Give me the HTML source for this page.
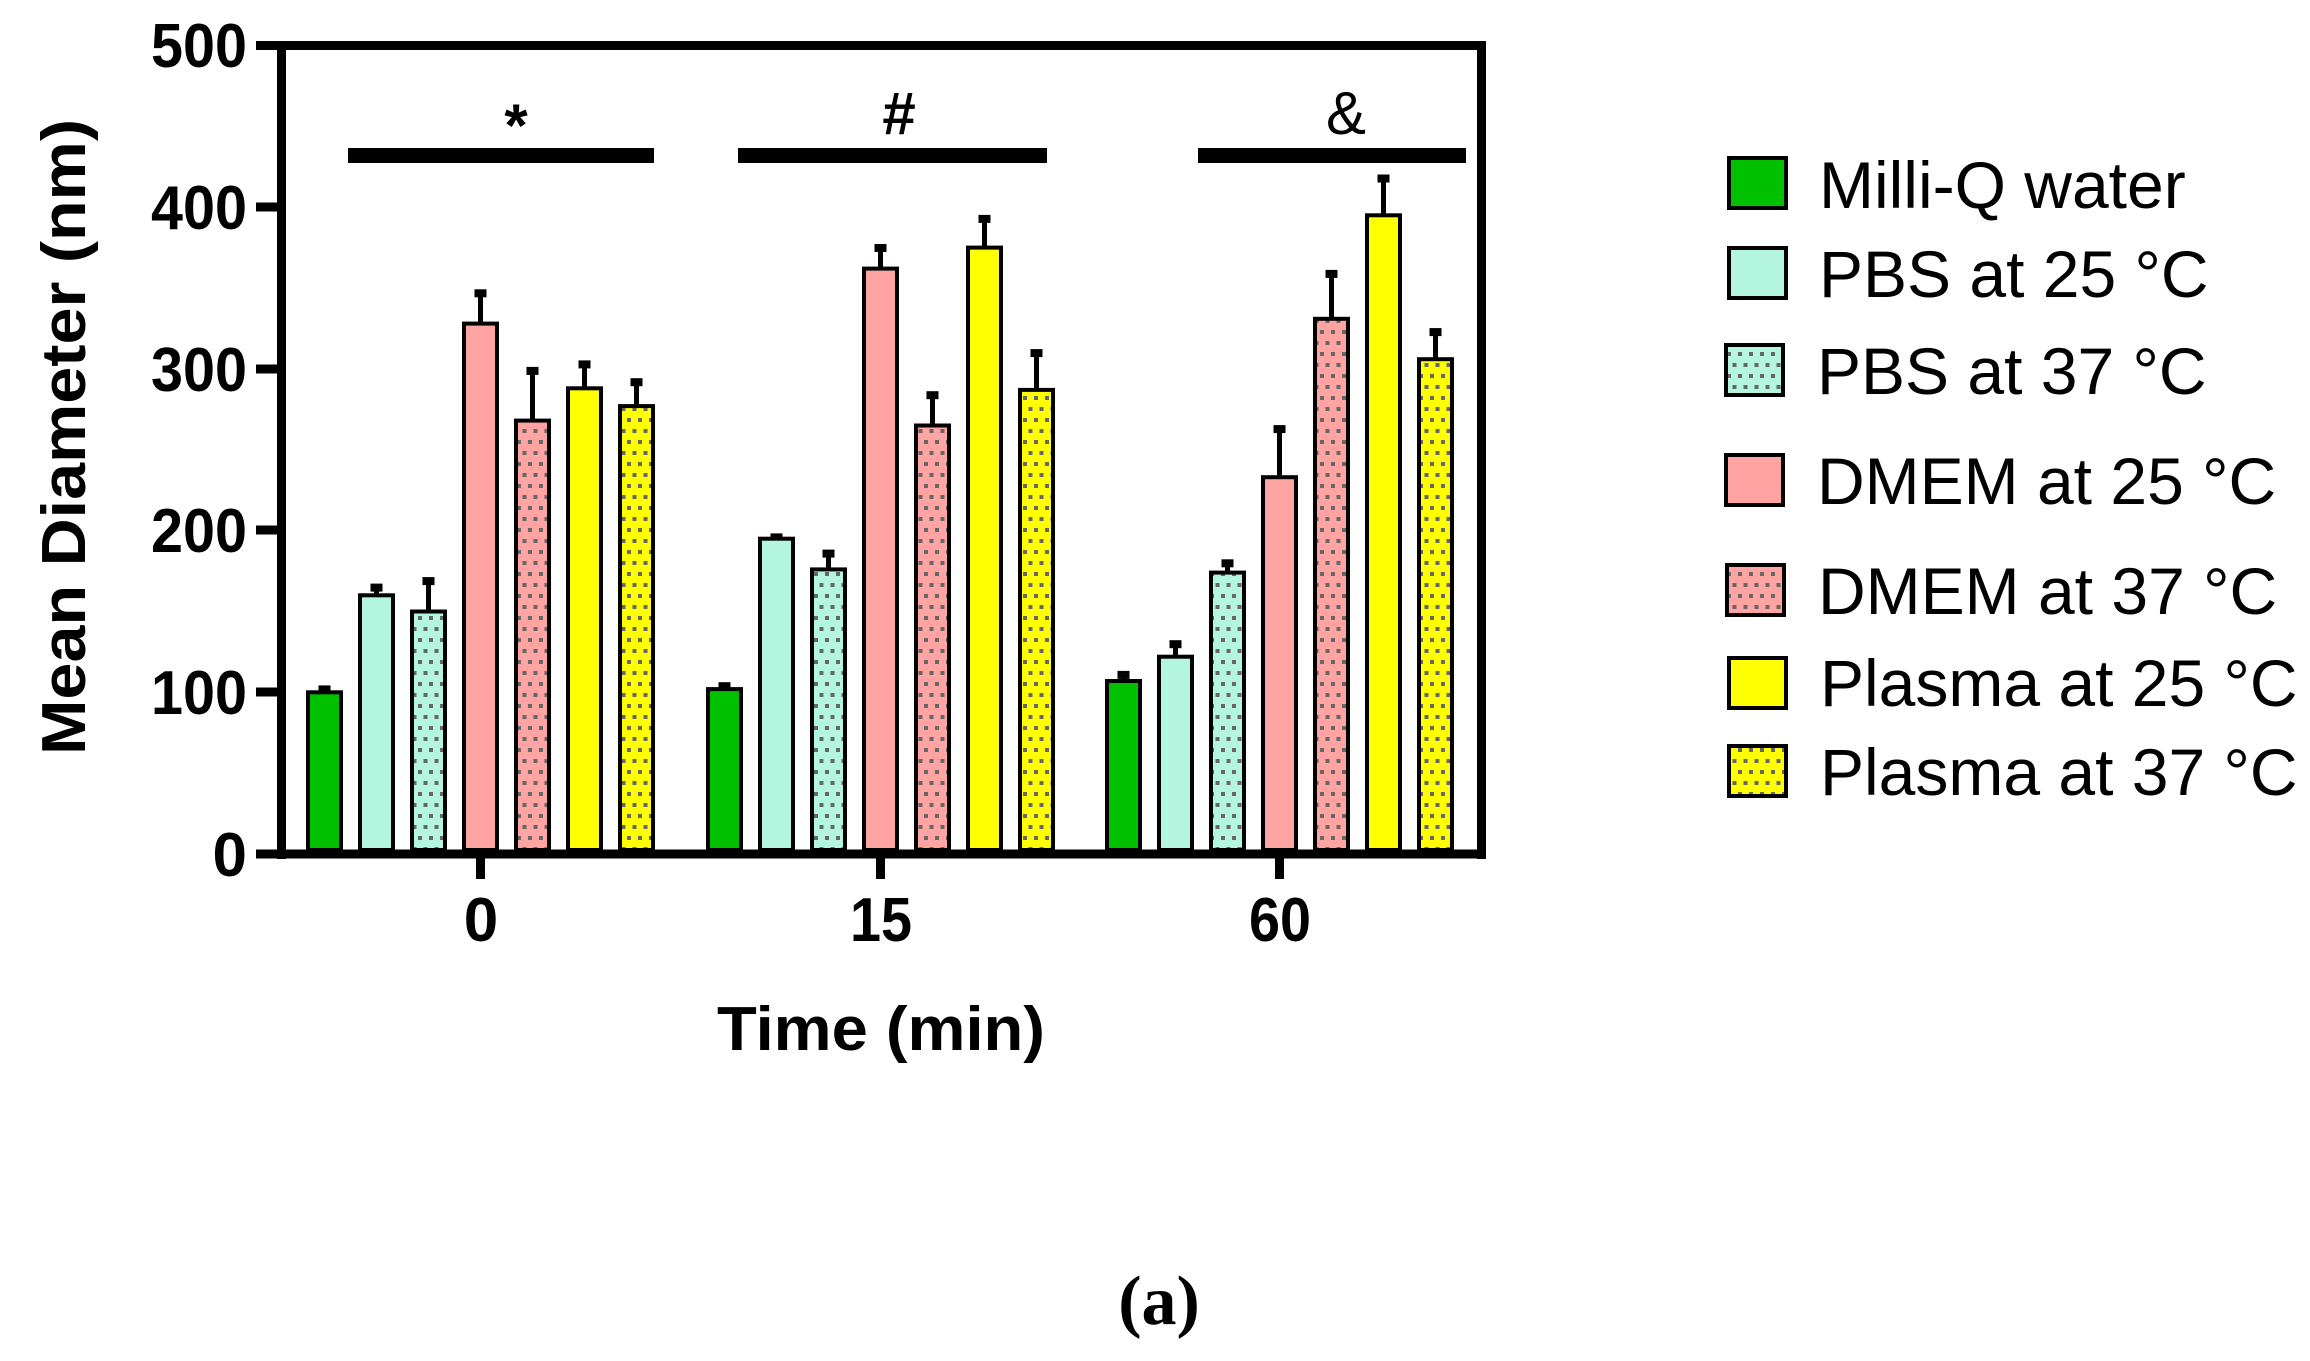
<!DOCTYPE html>
<html><head><meta charset="utf-8"><style>html,body{margin:0;padding:0;background:#fff;}svg{display:block}</style></head>
<body>
<svg width="2310" height="1361" viewBox="0 0 2310 1361" xmlns="http://www.w3.org/2000/svg" font-family="Liberation Sans, Arial, sans-serif">
<defs>
<pattern id="dotT" width="11" height="22" patternUnits="userSpaceOnUse"><rect width="11" height="22" fill="#b3f5df"/><rect x="0" y="0" width="4" height="4" fill="#666"/><rect x="5.5" y="11" width="4" height="4" fill="#666"/></pattern>
<pattern id="dotP" width="11" height="22" patternUnits="userSpaceOnUse"><rect width="11" height="22" fill="#ffa3a3"/><rect x="0" y="0" width="4" height="4" fill="#666"/><rect x="5.5" y="11" width="4" height="4" fill="#666"/></pattern>
<pattern id="dotY" width="11" height="22" patternUnits="userSpaceOnUse"><rect width="11" height="22" fill="#ffff00"/><rect x="0" y="0" width="4" height="4" fill="#666"/><rect x="5.5" y="11" width="4" height="4" fill="#666"/></pattern>
</defs>
<g stroke="#000" stroke-width="5">
<line x1="324.5" y1="692.3" x2="324.5" y2="687.4"/>
<line x1="376.5" y1="595.3" x2="376.5" y2="585.6"/>
<line x1="428.5" y1="611.5" x2="428.5" y2="579.1"/>
<line x1="480.5" y1="323.6" x2="480.5" y2="291.3"/>
<line x1="532.5" y1="420.6" x2="532.5" y2="368.9"/>
<line x1="584.5" y1="388.3" x2="584.5" y2="362.4"/>
<line x1="636.5" y1="406.1" x2="636.5" y2="380.2"/>
<line x1="724.5" y1="689.1" x2="724.5" y2="684.2"/>
<line x1="776.5" y1="538.7" x2="776.5" y2="535.4"/>
<line x1="828.5" y1="569.4" x2="828.5" y2="551.6"/>
<line x1="880.5" y1="268.6" x2="880.5" y2="246.0"/>
<line x1="932.5" y1="425.5" x2="932.5" y2="393.2"/>
<line x1="984.5" y1="247.6" x2="984.5" y2="216.9"/>
<line x1="1036.5" y1="389.9" x2="1036.5" y2="351.1"/>
<line x1="1123.5" y1="681.0" x2="1123.5" y2="672.9"/>
<line x1="1175.5" y1="656.7" x2="1175.5" y2="642.2"/>
<line x1="1227.5" y1="572.6" x2="1227.5" y2="561.3"/>
<line x1="1279.5" y1="477.2" x2="1279.5" y2="427.1"/>
<line x1="1331.5" y1="318.8" x2="1331.5" y2="271.9"/>
<line x1="1383.5" y1="215.3" x2="1383.5" y2="176.5"/>
<line x1="1435.5" y1="359.2" x2="1435.5" y2="330.1"/>
</g>
<g fill="#000">
<rect x="318.5" y="685.4" width="12" height="8"/>
<rect x="370.5" y="583.6" width="12" height="8"/>
<rect x="422.5" y="577.1" width="12" height="8"/>
<rect x="474.5" y="289.3" width="12" height="8"/>
<rect x="526.5" y="366.9" width="12" height="8"/>
<rect x="578.5" y="360.4" width="12" height="8"/>
<rect x="630.5" y="378.2" width="12" height="8"/>
<rect x="718.5" y="682.2" width="12" height="8"/>
<rect x="770.5" y="533.4" width="12" height="8"/>
<rect x="822.5" y="549.6" width="12" height="8"/>
<rect x="874.5" y="244.0" width="12" height="8"/>
<rect x="926.5" y="391.2" width="12" height="8"/>
<rect x="978.5" y="214.9" width="12" height="8"/>
<rect x="1030.5" y="349.1" width="12" height="8"/>
<rect x="1117.5" y="670.9" width="12" height="8"/>
<rect x="1169.5" y="640.2" width="12" height="8"/>
<rect x="1221.5" y="559.3" width="12" height="8"/>
<rect x="1273.5" y="425.1" width="12" height="8"/>
<rect x="1325.5" y="269.9" width="12" height="8"/>
<rect x="1377.5" y="174.5" width="12" height="8"/>
<rect x="1429.5" y="328.1" width="12" height="8"/>
</g>
<g stroke="#000" stroke-width="4">
<rect x="308" y="692.3" width="33" height="157.7" fill="#00c000"/>
<rect x="360" y="595.3" width="33" height="254.7" fill="#b3f5df"/>
<rect x="412" y="611.5" width="33" height="238.5" fill="url(#dotT)"/>
<rect x="464" y="323.6" width="33" height="526.4" fill="#ffa3a3"/>
<rect x="516" y="420.6" width="33" height="429.4" fill="url(#dotP)"/>
<rect x="568" y="388.3" width="33" height="461.7" fill="#ffff00"/>
<rect x="620" y="406.1" width="33" height="443.9" fill="url(#dotY)"/>
<rect x="708" y="689.1" width="33" height="160.9" fill="#00c000"/>
<rect x="760" y="538.7" width="33" height="311.3" fill="#b3f5df"/>
<rect x="812" y="569.4" width="33" height="280.6" fill="url(#dotT)"/>
<rect x="864" y="268.6" width="33" height="581.4" fill="#ffa3a3"/>
<rect x="916" y="425.5" width="33" height="424.5" fill="url(#dotP)"/>
<rect x="968" y="247.6" width="33" height="602.4" fill="#ffff00"/>
<rect x="1020" y="389.9" width="33" height="460.1" fill="url(#dotY)"/>
<rect x="1107" y="681.0" width="33" height="169.0" fill="#00c000"/>
<rect x="1159" y="656.7" width="33" height="193.3" fill="#b3f5df"/>
<rect x="1211" y="572.6" width="33" height="277.4" fill="url(#dotT)"/>
<rect x="1263" y="477.2" width="33" height="372.8" fill="#ffa3a3"/>
<rect x="1315" y="318.8" width="33" height="531.2" fill="url(#dotP)"/>
<rect x="1367" y="215.3" width="33" height="634.7" fill="#ffff00"/>
<rect x="1419" y="359.2" width="33" height="490.8" fill="url(#dotY)"/>
</g>
<g stroke="#000" stroke-width="9" fill="none">
<line x1="281.5" y1="41" x2="281.5" y2="859"/>
<line x1="277" y1="45.5" x2="1486" y2="45.5"/>
<line x1="1481.5" y1="41" x2="1481.5" y2="859"/>
<line x1="256" y1="854" x2="1486" y2="854"/>
<line x1="256" y1="45.5" x2="281" y2="45.5"/>
<line x1="256" y1="207" x2="281" y2="207"/>
<line x1="256" y1="369" x2="281" y2="369"/>
<line x1="256" y1="530" x2="281" y2="530"/>
<line x1="256" y1="692" x2="281" y2="692"/>
<line x1="480.5" y1="854" x2="480.5" y2="879"/>
<line x1="880.5" y1="854" x2="880.5" y2="879"/>
<line x1="1279.5" y1="854" x2="1279.5" y2="879"/>
</g>
<g font-weight="bold" font-size="62" text-anchor="end">
<text x="247" y="67" textLength="96" lengthAdjust="spacingAndGlyphs">500</text>
<text x="247" y="229" textLength="96" lengthAdjust="spacingAndGlyphs">400</text>
<text x="247" y="391" textLength="96" lengthAdjust="spacingAndGlyphs">300</text>
<text x="247" y="552" textLength="96" lengthAdjust="spacingAndGlyphs">200</text>
<text x="247" y="714" textLength="96" lengthAdjust="spacingAndGlyphs">100</text>
<text x="247" y="876">0</text>
</g>
<g font-weight="bold" font-size="62" text-anchor="middle">
<text x="481" y="941">0</text>
<text x="881" y="941" textLength="62" lengthAdjust="spacingAndGlyphs">15</text>
<text x="1280" y="941" textLength="62" lengthAdjust="spacingAndGlyphs">60</text>
<text x="881" y="1050" textLength="328" lengthAdjust="spacingAndGlyphs">Time (min)</text>
<text transform="translate(85,437) rotate(-90)" textLength="636" lengthAdjust="spacingAndGlyphs">Mean Diameter (nm)</text>
</g>
<text x="1159" y="1324" font-family="Liberation Serif, serif" font-weight="bold" font-size="70" text-anchor="middle">(a)</text>
<g fill="#000">
<rect x="348" y="148" width="306" height="15"/>
<rect x="738" y="148" width="309" height="15"/>
<rect x="1198" y="148" width="268" height="15"/>
</g>
<g font-weight="bold" font-size="60" text-anchor="middle">
<text x="516" y="146">*</text>
<text x="899" y="134">#</text>
<text x="1346" y="134" font-weight="normal">&amp;</text>
</g>
<g stroke="#000" stroke-width="4">
<rect x="1729" y="158" width="57" height="50" fill="#00c000"/>
<rect x="1729" y="248" width="57" height="50" fill="#b3f5df"/>
<rect x="1726" y="345" width="57" height="50" fill="url(#dotT)"/>
<rect x="1726" y="455" width="57" height="50" fill="#ffa3a3"/>
<rect x="1727" y="565" width="57" height="50" fill="url(#dotP)"/>
<rect x="1729" y="658" width="57" height="50" fill="#ffff00"/>
<rect x="1729" y="746" width="57" height="50" fill="url(#dotY)"/>
</g>
<g font-size="66">
<text x="1819" y="208">Milli-Q water</text>
<text x="1819" y="297">PBS at 25 °C</text>
<text x="1817" y="394">PBS at 37 °C</text>
<text x="1817" y="504">DMEM at 25 °C</text>
<text x="1818" y="614">DMEM at 37 °C</text>
<text x="1820" y="706">Plasma at 25 °C</text>
<text x="1820" y="795">Plasma at 37 °C</text>
</g>
</svg>
</body></html>
